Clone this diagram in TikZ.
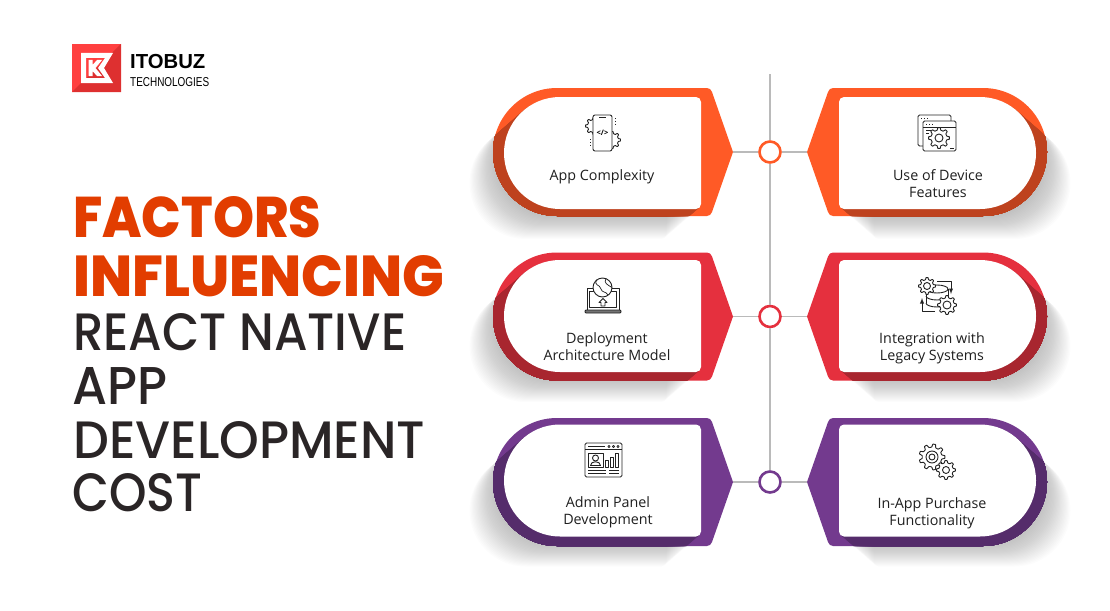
\documentclass[tikz,border=0pt]{standalone}
\usepackage{fontspec}
\usepackage{graphicx}
\setmainfont{Open Sans}
\newfontfamily\logofont{Liberation Sans}
\newfontfamily\hotfont{Poppins ExtraBold}
\newfontfamily\darkfont{Poppins Medium}

\definecolor{orangecard}{HTML}{FF5A26}
\definecolor{orangedark}{HTML}{BE421E}
\definecolor{redcard}{HTML}{E5303E}
\definecolor{reddark}{HTML}{A8262F}
\definecolor{purplecard}{HTML}{733A8E}
\definecolor{purpledark}{HTML}{552C6B}
\definecolor{headhot}{HTML}{E23D00}
\definecolor{headdark}{HTML}{2A2526}
\definecolor{icondark}{HTML}{222222}
\definecolor{logolight}{HTML}{FF4040}
\definecolor{logodark}{HTML}{DE3030}

\tikzset{
  cardtext/.style={align=center,inner sep=0pt,text=black!88,font=\fontsize{14.3}{17}\selectfont},
  headline/.style={anchor=base west,inner sep=0pt},
  hub/.style={circle,draw=#1,fill=white,line width=2.6pt,minimum size=21pt,inner sep=0pt},
  spine/.style={draw=black!27,line width=1.3pt},
  iconline/.style={draw=icondark,line width=.9pt,line join=round}
}

\def\outerpath{(-37,0) -- (-58,-60) to[out=110,in=0] (-63,-64) -- (-213,-64) arc[start angle=90,end angle=270,radius=64pt] -- (-63,64) to[out=0,in=-110] (-58,60) -- cycle}
\def\innerpath{(-74,-56) -- (-210,-56) arc[start angle=90,end angle=270,radius=56pt] -- (-74,56) arc[start angle=270,end angle=360,radius=5pt] -- (-69,-51) arc[start angle=0,end angle=90,radius=5pt] -- cycle}

% #1 side, #2 row y, #3 colour, #4 dark colour, #5 inner offset, #6 tip name
\newcommand{\cardshape}[6]{
\begin{scope}[shift={(770,#2)},xscale=#1]
  \foreach \s in {1,...,30}
    \fill[black,opacity=.012,shift={({-1.15*\s},{\s+#5})}] \innerpath;
  \fill[#3] \outerpath;
  \begin{scope}
    \clip \outerpath;
    \foreach \s in {1,...,30}
      \fill[#4,shift={({-1.15*\s},{\s+#5})}] \innerpath;
  \end{scope}
  \fill[white,shift={(0,#5)}] \innerpath;
  \coordinate (#6) at (-37,0);
\end{scope}
}

% #1 x, #2 y, #3 radius, #4 teeth
\newcommand{\gearicon}[4]{
  \pgfmathsetmacro\gstep{360/#4}
  \draw[iconline,fill=white,shift={(#1,#2)},rounded corners=.3pt] ({-.3*\gstep}:{.76*#3})
    \foreach \k in {0,...,\numexpr#4-1\relax}{
      -- ({(\k-.3)*\gstep}:{.76*#3}) -- ({(\k-.15)*\gstep}:#3) -- ({(\k+.15)*\gstep}:#3) -- ({(\k+.3)*\gstep}:{.76*#3})
    } -- cycle;
}

\begin{document}
\begin{tikzpicture}[x=1pt,y=-1pt]
\useasboundingbox (0,0) rectangle (1110,610);

% logo
\fill[logolight] (72,44) rectangle (121,92);
\fill[logodark] (121,44) -- (121,92) -- (72,92) -- cycle;
\fill[white,even odd rule] (81,53) -- (113,53) -- (104,68) -- (113,83) -- (81,83) -- cycle
  (86,58) -- (105,58) -- (98,68) -- (105,78) -- (86,78) -- cycle;
\fill[white] (88.5,60) -- (92.5,60) -- (92.5,65) -- (97,60) -- (102,60) -- (95.5,68) -- (102,76) -- (97,76) -- (92.5,71) -- (92.5,76) -- (88.5,76) -- cycle;
\node[headline,font=\logofont\bfseries\fontsize{20.3}{20}\selectfont] (logoname) at (130,68) {ITOBUZ};
\node[headline,font=\logofont] (logosub) at (130,86) {\resizebox{79pt}{9pt}{TECHNOLOGIES}};

% heading
\node[headline,text=headhot,font=\hotfont] (factors) at (73,237) {\resizebox{248pt}{41pt}{FACTORS}};
\node[headline,text=headhot,font=\hotfont] (influencing) at (73,296) {\resizebox{371pt}{41pt}{INFLUENCING}};
\node[headline,text=headdark,font=\darkfont] (react) at (73,350) {\resizebox{333pt}{37pt}{REACT NATIVE}};
\node[headline,text=headdark,font=\darkfont] (app) at (72,404) {\resizebox{95pt}{37pt}{APP}};
\node[headline,text=headdark,font=\darkfont] (development) at (73,458) {\resizebox{352pt}{37pt}{DEVELOPMENT}};
\node[headline,text=headdark,font=\darkfont] (cost) at (72,511) {\resizebox{130pt}{38pt}{COST}};

% cards
\cardshape{1}{152}{orangecard}{orangedark}{1}{tipa}
\cardshape{-1}{152}{orangecard}{orangedark}{1}{tipb}
\cardshape{1}{316.5}{redcard}{reddark}{-.5}{tipc}
\cardshape{-1}{316.5}{redcard}{reddark}{-.5}{tipd}
\cardshape{1}{482}{purplecard}{purpledark}{-1.5}{tipe}
\cardshape{-1}{482}{purplecard}{purpledark}{-1.5}{tipf}

% spine
\coordinate (spinetop) at (770,74);
\node[hub=orangecard] (huba) at (770,152) {};
\node[hub=redcard] (hubb) at (770,316.5) {};
\node[hub=purplecard] (hubc) at (770,482) {};
\draw[spine] (spinetop) -- (huba);
\draw[spine] (huba) -- (hubb);
\draw[spine] (hubb) -- (hubc);
\draw[spine] (tipa) -- (huba);
\draw[spine] (tipb) -- (huba);
\draw[spine] (tipc) -- (hubb);
\draw[spine] (tipd) -- (hubb);
\draw[spine] (tipe) -- (hubc);
\draw[spine] (tipf) -- (hubc);

% labels
\node[cardtext] (labela) at (602,177) {App Complexity};
\node[cardtext] (labelb) at (938,183.5) {Use of Device\\Features};
\node[cardtext] (labelc) at (607,346.5) {Deployment\\Architecture Model};
\node[cardtext] (labeld) at (932,348.5) {Integration with\\Legacy Systems};
\node[cardtext] (labele) at (608,512.5) {Admin Panel\\Development};
\node[cardtext] (labelf) at (932,513.5) {In-App Purchase\\Functionality};

% phone icon
\gearicon{594}{126}{8.5}{8}
\gearicon{612}{140}{8.5}{8}
\draw[iconline,fill=white,rounded corners=2pt] (593,115) rectangle (612,151);
\draw[iconline] (599,117.5) -- (606,117.5);
\draw[iconline,dotted] (615,118) -- (615,125);
\draw[iconline,dotted] (590,139) -- (590,146);
\node[inner sep=0pt,font=\bfseries\fontsize{7.5}{7.5}\selectfont] (codetag) at (602.5,133) {</>};

% windows icon
\draw[iconline,rounded corners=1.5pt] (923,146) -- (918,146) -- (918,115) -- (951,115) -- (951,121);
\draw[iconline,fill=white,rounded corners=1.5pt] (923,121) rectangle (956,151);
\draw[iconline] (923,127) -- (956,127);
\draw[iconline,dotted] (921,118) -- (928,118);
\draw[iconline,dotted] (926,124) -- (933,124);
\draw[iconline] (926,130) -- (931,130);
\draw[iconline] (926,133) -- (929,133);
\draw[iconline] (950,148) -- (954,148);
\gearicon{939}{138}{10.5}{8}
\draw[iconline] (939,138) circle[radius=4pt];

% laptop icon
\draw[iconline,line width=1pt] (587,310) -- (587,288) -- (619,288) -- (619,310);
\draw[iconline] (589.5,307.5) -- (589.5,291) -- (616.5,291) -- (616.5,307.5) -- cycle;
\draw[iconline,fill=black!55,rounded corners=1pt] (585,310) rectangle (621,313);
\draw[iconline,fill=white] (602.5,287.5) circle[radius=9.5pt];
\draw[iconline,line width=.7pt] (597,279.5) .. controls (593,286) and (600,284) .. (601,289) .. controls (602,293) and (606,291) .. (608,295);
\draw[iconline,line width=.7pt] (606,278.5) .. controls (603,283) and (608,285) .. (612,287.5);
\draw[iconline] (603,298.5) -- (607,302.5) -- (605,302.5) -- (605,306) -- (601,306) -- (601,302.5) -- (599,302.5) -- cycle;

% database icon
\draw[iconline] (926,289) -- (926,303);
\draw[iconline] (948,289) -- (948,303);
\draw[iconline] (937,289) ellipse[x radius=11pt,y radius=4pt];
\draw[iconline] (926,296) arc[start angle=180,end angle=360,x radius=11pt,y radius=4pt];
\draw[iconline] (926,303) arc[start angle=180,end angle=360,x radius=11pt,y radius=4pt];
\gearicon{927}{286}{8.5}{8}
\draw[iconline] (927,286) circle[radius=3.5pt];
\gearicon{947}{305}{9.5}{8}
\draw[iconline] (947,305) circle[radius=4pt];
\draw[iconline,-latex] (937,281) -- (951,281) -- (951,294);
\draw[iconline,-latex] (935,311) -- (922,311) -- (922,298);

% admin icon
\draw[iconline,rounded corners=1.5pt] (585,443) rectangle (622,477);
\draw[iconline] (585,449.5) -- (622,449.5);
\draw[iconline] (588,446.5) -- (605,446.5);
\foreach \dotx in {609,613.5,618}
  \draw[iconline,line width=.6pt] (\dotx,446.5) circle[radius=1.1pt];
\draw[iconline] (588,453) rectangle (603,467);
\draw[iconline] (595.5,458) circle[radius=3pt];
\draw[iconline] (590.5,465.5) .. controls (590.5,460.5) and (600.5,460.5) .. (600.5,465.5) -- cycle;
\draw[iconline] (605.5,460) rectangle (608.5,467);
\draw[iconline] (610.5,457) rectangle (613.5,467);
\draw[iconline] (615.5,453) rectangle (618.5,467);
\draw[iconline] (588,470) -- (606,470);
\draw[iconline] (588,473) -- (606,473);
\draw[iconline] (609,470) -- (619,470);
\draw[iconline] (609,473) -- (619,473);

% gears icon
\gearicon{932}{457}{13}{9}
\draw[iconline] (932,457) circle[radius=6pt];
\draw[iconline] (932,457) circle[radius=3pt];
\gearicon{946}{470}{9.5}{8}
\draw[iconline] (946,470) circle[radius=3.5pt];
\end{tikzpicture}
\end{document}
